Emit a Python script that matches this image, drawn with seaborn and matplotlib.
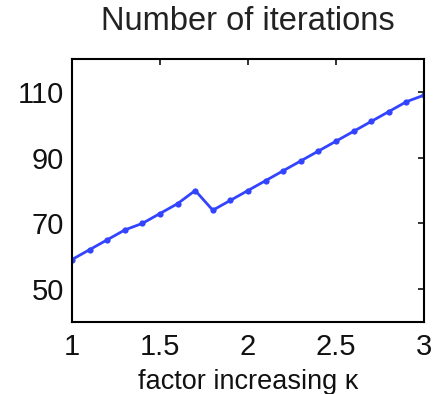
import matplotlib
matplotlib.use("Agg")
import matplotlib.pyplot as plt
import seaborn as sns
import pandas as pd

# factor by which kappa is increased, and the iteration count observed
factor = [1.0, 1.1, 1.2, 1.3, 1.4, 1.5, 1.6, 1.7, 1.8, 1.9, 2.0,
          2.1, 2.2, 2.3, 2.4, 2.5, 2.6, 2.7, 2.8, 2.9, 3.0]
iterations = [59, 62, 65, 68, 70, 73, 76, 80, 74, 77, 80,
              83, 86, 89, 92, 95, 98, 101, 104, 107, 109]
x_ticks = [1, 1.5, 2, 2.5, 3]
x_tick_labels = ["1", "1.5", "2", "2.5", "3"]
y_ticks = [50, 70, 90, 110]

sns.set_theme(style="white")
plt.rcParams["font.family"] = ["Liberation Sans", "DejaVu Sans"]

df = pd.DataFrame({"factor": factor, "iterations": iterations})

fig = plt.figure(figsize=(4.34, 3.94), dpi=100)
ax = fig.add_axes([72 / 434, 1 - 322 / 394, (424 - 72) / 434, (322 - 59) / 394])

sns.lineplot(data=df, x="factor", y="iterations", ax=ax, color="#3344ff",
             linewidth=2.0, marker="o", markersize=4.5, markeredgewidth=0)

ax.set_xlim(1, 3)
ax.set_ylim(40, 120)
ax.set_xticks(x_ticks)
ax.set_xticklabels(x_tick_labels)
ax.set_yticks(y_ticks)
ax.tick_params(direction="in", top=True, right=True, length=4, width=1.2,
               labelsize=21, colors="#111111", pad=6)
ax.tick_params(axis="x", pad=8)
for s in ax.spines.values():
    s.set_color("black")
    s.set_linewidth(1.5)

ax.set_title("Number of iterations", fontsize=23.5, pad=21, color="#222222")
ax.set_xlabel("factor increasing \u03ba", fontsize=19.5, labelpad=6, color="#111111")
ax.set_ylabel("")

fig.savefig("out.png", dpi=100)
